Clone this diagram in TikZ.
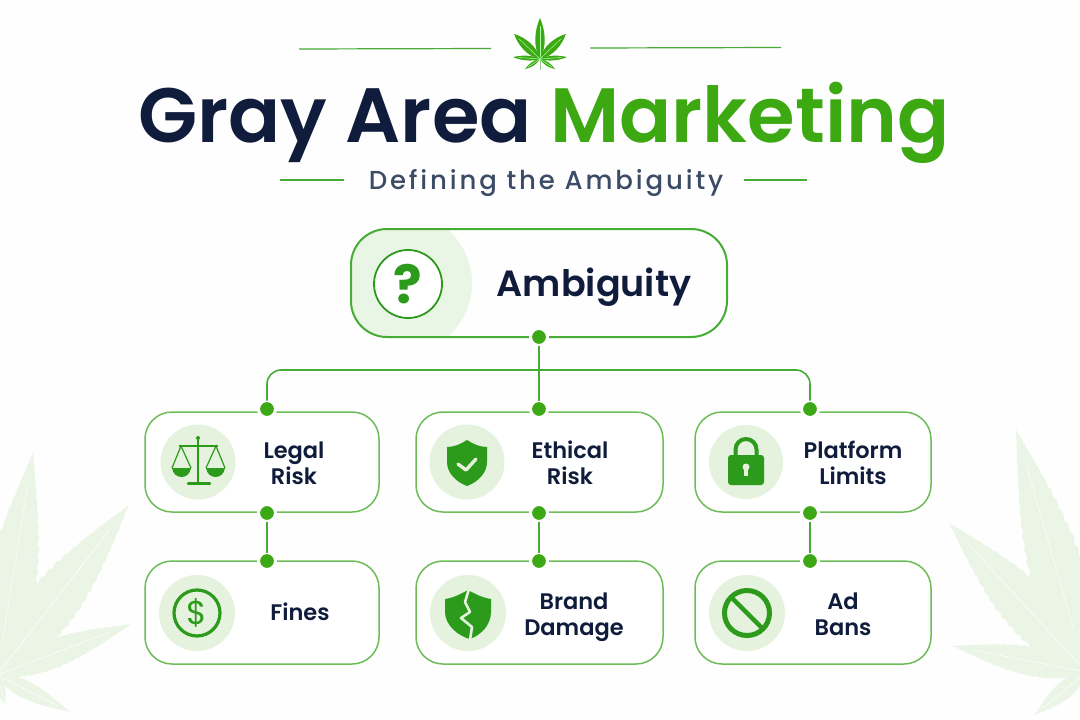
\documentclass[tikz,border=0pt]{standalone}
\usepackage{fontspec}
\setmainfont{Poppins}
\newfontfamily\pmed{Poppins Medium}
\newfontfamily\psemi{Poppins SemiBold}
\newfontfamily\pbold{Poppins}[UprightFont={* Bold}]
\newfontfamily\pspaced{Poppins Medium}[LetterSpace=11]
\definecolor{navy}{HTML}{101C3C}
\definecolor{gtitle}{HTML}{3CA812}
\definecolor{gline}{HTML}{46AC35}
\definecolor{gcard}{HTML}{6CBD58}
\definecolor{gdot}{HTML}{3DA815}
\definecolor{gicon}{HTML}{2C9A1A}
\definecolor{tint}{HTML}{E4F2DE}
\definecolor{lobe}{HTML}{EAF6E5}
\definecolor{ghost}{HTML}{EAF5E6}
\definecolor{subt}{HTML}{3C4B66}
\newcommand\leafblade[6]{%
  \begin{scope}[shift={(#1,#2)},rotate=#3]
    \fill[#6] (0,0)
      \foreach \s in {.05,.1,...,.95} { -- ({\s*#4},{#5*.92*sin(180*\s^0.75)}) -- ({(\s+.035)*#4},{#5*sin(180*(\s+.035)^0.75)}) }
      -- (#4,0)
      \foreach \s in {.95,.9,...,.05} { -- ({(\s+.035)*#4},{-#5*sin(180*(\s+.035)^0.75)}) -- ({\s*#4},{-#5*.92*sin(180*\s^0.75)}) }
      -- cycle;
    \draw[white,line width=.5pt] (0,0) -- ({.85*#4},0);
  \end{scope}}
\newcommand\smallblade[5]{%
  \begin{scope}[shift={(#1,#2)},rotate=#3]
    \fill[gtitle] (0,0) .. controls ({.3*#4},{1.4*#5}) and ({.7*#4},{1.1*#5}) .. (#4,0)
      .. controls ({.7*#4},{-1.1*#5}) and ({.3*#4},{-1.4*#5}) .. (0,0) -- cycle;
    \draw[green!35!white,line width=.5pt] (0,0) -- ({.8*#4},0);
  \end{scope}}
\newcommand\twolines[2]{\strut #1\\\strut #2}
\tikzset{
  x=1pt,y=-1pt,
  card/.style={draw=gcard,line width=1.5pt,rounded corners=27pt,fill=white,inner sep=0pt},
  mainbox/.style={draw=gline,line width=2pt,rounded corners=36pt,inner sep=0pt},
  dot/.style={circle,fill=gdot,draw=white,line width=3pt,minimum size=17pt,inner sep=0pt,outer sep=0pt},
  iconbg/.style={circle,fill=tint,inner sep=0pt},
  lab/.style={font=\psemi\fontsize{22.5}{26}\selectfont,text=navy,align=center,inner sep=0pt},
  conn/.style={draw=gline,line width=1.6pt},
  rule/.style={draw=gline,line width=1.2pt}
}
\begin{document}
\begin{tikzpicture}
\useasboundingbox (0,0) rectangle (1080,720);
\fill[white!99.6!black] (0,0) rectangle (1080,720);
% ghost leaves
\leafblade{-3}{675}{80.8}{225}{25}{ghost}
\leafblade{-3}{675}{52.2}{215}{26}{ghost}
\leafblade{-3}{675}{20.8}{143}{15}{ghost}
\leafblade{-3}{675}{-26.9}{82}{9}{ghost}
\leafblade{-3}{675}{-75}{30}{5}{ghost}
\leafblade{1086}{672}{106.1}{252}{28}{ghost}
\leafblade{1086}{672}{132.6}{202}{26}{ghost}
\leafblade{1086}{672}{169}{136}{15}{ghost}
\leafblade{1086}{672}{220}{67}{9}{ghost}
% top emblem
\draw[gcard!70!white,line width=1pt] (540,59) -- (540,70);
\smallblade{540}{59}{90}{41}{5}
\smallblade{540}{59}{136}{36}{5}
\smallblade{540}{59}{44}{36}{5}
\smallblade{540}{59}{176}{27}{2.5}
\smallblade{540}{59}{4}{27}{2.5}
\smallblade{540}{59}{214}{18}{2}
\smallblade{540}{59}{-34}{18}{2}
% title rules
\coordinate (r1a) at (299,49); \coordinate (r1b) at (491,48.5);
\coordinate (r2a) at (590,48); \coordinate (r2b) at (781,47.5);
\coordinate (r3a) at (280,180); \coordinate (r3b) at (344,180);
\coordinate (r4a) at (744,180); \coordinate (r4b) at (807,180);
\draw[rule] (r1a) -- (r1b);
\draw[rule] (r2a) -- (r2b);
\draw[rule] (r3a) -- (r3b);
\draw[rule] (r4a) -- (r4b);
% title
\node[anchor=base,inner sep=0pt,font=\psemi\fontsize{77}{90}\selectfont] (title) at (544,142)
  {\textcolor{navy}{Gray Area} \textcolor{gtitle}{Marketing}};
\node[anchor=base,inner sep=0pt,text=subt,font=\pspaced\fontsize{26}{28}\selectfont] (subtitle) at (546,189)
  {Defining the Ambiguity};
% main box
\begin{scope}
  \clip[rounded corners=36pt] (351,229) rectangle (727,337);
  \fill[lobe] (401,283) circle (71);
\end{scope}
\node[mainbox,minimum width=376pt,minimum height=108pt] (amb) at (539,283) {};
\node[circle,draw=gicon,line width=1.8pt,minimum size=68pt,inner sep=0pt,fill=white] (qc) at (408,284) {};
\node[text=gicon,inner sep=0pt,font=\pbold\fontsize{53}{55}\selectfont] (q) at (408,284) {?};
\node[text=navy,anchor=base,inner sep=0pt,font=\psemi\fontsize{36.5}{40}\selectfont] (ambt) at (594,296) {Ambiguity};
% cards
\node[card,minimum width=234pt,minimum height=100pt] (c1) at (262,462) {};
\node[card,minimum width=247pt,minimum height=100pt] (c2) at (539.5,462) {};
\node[card,minimum width=236pt,minimum height=100pt] (c3) at (813,462) {};
\node[card,minimum width=234pt,minimum height=103pt] (c4) at (262,612.5) {};
\node[card,minimum width=247pt,minimum height=103pt] (c5) at (539.5,612.5) {};
\node[card,minimum width=236pt,minimum height=103pt] (c6) at (813,612.5) {};
% dots
\node[dot] (d0) at (539,337) {};
\node[dot] (d1) at (267,409) {};
\node[dot] (d2) at (539,409) {};
\node[dot] (d3) at (810,409) {};
\node[dot] (d4) at (267,513) {};
\node[dot] (d5) at (539,513) {};
\node[dot] (d6) at (810,513) {};
\node[dot] (d7) at (267,561) {};
\node[dot] (d8) at (539,561) {};
\node[dot] (d9) at (810,561) {};
\coordinate (bus) at (539,370);
\draw[conn] (d0) -- (d2);
\draw[conn,rounded corners=14pt] (d1) |- (bus) -| (d3);
\draw[conn] (d4) -- (d7);
\draw[conn] (d5) -- (d8);
\draw[conn] (d6) -- (d9);
% icon discs
\node[iconbg,minimum size=75pt] (i1) at (198,462) {};
\node[iconbg,minimum size=75pt] (i2) at (467,462) {};
\node[iconbg,minimum size=74pt] (i3) at (746,462) {};
\node[iconbg,minimum size=76pt] (i4) at (197,613) {};
\node[iconbg,minimum size=76pt] (i5) at (468,613) {};
\node[iconbg,minimum size=76pt] (i6) at (747,613) {};
% scales
\begin{scope}[gicon]
  \fill (198,438) circle (2);
  \draw[line width=2pt] (198,440) -- (198,483);
  \draw[line width=2pt] (179,446) -- (218,446);
  \draw[line width=2.5pt,line cap=round] (188,483.5) -- (210,483.5);
  \draw[line width=1.2pt] (172,468) -- (181,446) -- (191,468);
  \draw[line width=1.2pt] (206,468) -- (216,446) -- (225,468);
  \fill (172,468) -- (191,468) .. controls (190,474) and (186,477) .. (181.5,477) .. controls (177,477) and (173,474) .. (172,468) -- cycle;
  \fill (206,468) -- (225,468) .. controls (224,474) and (220,477) .. (215.5,477) .. controls (211,477) and (207,474) .. (206,468) -- cycle;
\end{scope}
% dollar
\draw[gicon,line width=3.2pt] (i4.center) circle (23);
\node[text=gicon,inner sep=0pt,font=\rmfamily\fontsize{33}{35}\selectfont] (dollar) at (197,613) {\$};
% shield
\fill[gicon] (467,440) .. controls (473,444) and (480,447) .. (487,447) -- (487,462)
  .. controls (487,473) and (478,482) .. (467,486) .. controls (456,482) and (447,473) .. (447,462) -- (447,447)
  .. controls (454,447) and (461,444) .. (467,440) -- cycle;
\draw[tint,line width=3.4pt,line cap=round,line join=round] (458,464) -- (466,470) -- (476,459);
% broken shield
\fill[gicon] (468,590) .. controls (475,594) and (483,598) .. (491,599) -- (491,612)
  .. controls (491,625) and (481,635) .. (470,639) .. controls (458,636) and (445,625) .. (445,612) -- (445,599)
  .. controls (453,598) and (461,594) .. (468,590) -- cycle;
\draw[tint,line width=2.6pt,line join=round] (469,589) -- (465,602) -- (470,612) -- (461,618) -- (472,627) -- (470,640);
% lock
\draw[gicon,line width=4pt] (735.5,456) -- (735.5,449.5) arc[start angle=180,end angle=360,radius=10.5] -- (756.5,456);
\fill[gicon,rounded corners=3pt] (728,455) rectangle (764,485);
\fill[tint] (746,467) circle (3.5);
\fill[tint] (744,467) rectangle (748,475.5);
% ban
\draw[gicon,line width=5pt] (i6.center) circle (22.5);
\draw[gicon,line width=4.5pt] (731,597) -- (763,629);
% labels
\node[lab] (t1) at (294,465.8) {\twolines{Legal}{Risk}};
\node[lab] (t2) at (570,465.8) {\twolines{Ethical}{Risk}};
\node[lab] (t3) at (853,465.8) {\twolines{Platform}{Limits}};
\node[lab] (t4) at (300,614.8) {\strut Fines};
\node[lab] (t5) at (574,616.8) {\twolines{Brand}{Damage}};
\node[lab] (t6) at (843,616.8) {\twolines{Ad}{Bans}};
\end{tikzpicture}
\end{document}
